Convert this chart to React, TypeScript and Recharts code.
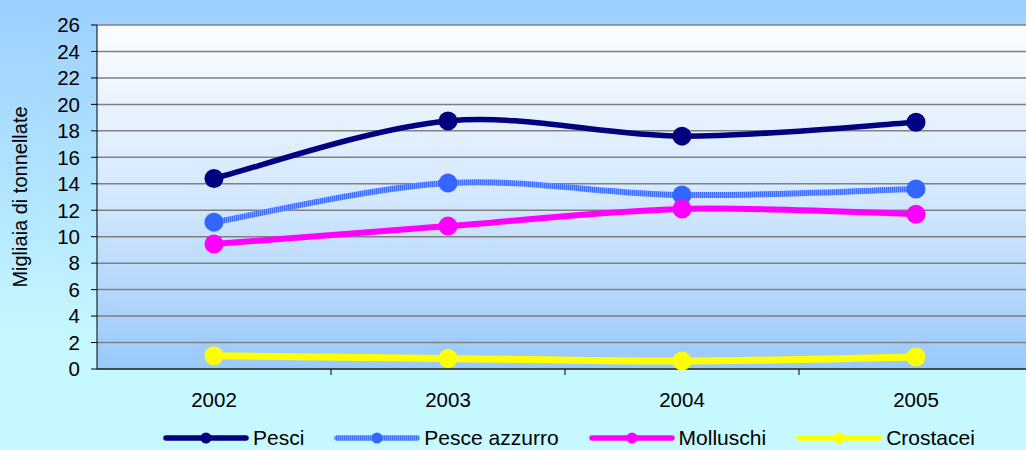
import { LineChart, Line, XAxis, YAxis, CartesianGrid } from "recharts";

const years = ["2002", "2003", "2004", "2005"];
const pesci = [14.4, 18.75, 17.6, 18.65];
const pesceAzzurro = [11.1, 14.05, 13.15, 13.6];
const molluschi = [9.45, 10.8, 12.1, 11.7];
const crostacei = [1.0, 0.8, 0.6, 0.9];
const yTicks = [0, 2, 4, 6, 8, 10, 12, 14, 16, 18, 20, 22, 24, 26];

const series = [
  { key: "pesci", name: "Pesci", color: "#000080", dot: "#000080", width: 5.5 },
  { key: "azzurro", name: "Pesce azzurro", color: "url(#stripes)", dot: "#3366ff", width: 6 },
  { key: "molluschi", name: "Molluschi", color: "#ff00ff", dot: "#ff00ff", width: 6 },
  { key: "crostacei", name: "Crostacei", color: "#ffff00", dot: "#ffff00", width: 7 },
];

const data = years.map((y, i) => ({
  x: i + 0.5,
  year: y,
  pesci: pesci[i],
  azzurro: pesceAzzurro[i],
  molluschi: molluschi[i],
  crostacei: crostacei[i],
}));

const font = "'Liberation Sans', Arial, sans-serif";

// office-style smoothed line (catmull-rom through the points)
// eslint-disable-next-line @typescript-eslint/no-explicit-any
function smoothCurve(context: any) {
  let pts: number[][] = [];
  return {
    areaStart() {},
    areaEnd() {},
    lineStart() {
      pts = [];
    },
    point(x: number, y: number) {
      pts.push([+x, +y]);
    },
    lineEnd() {
      if (!pts.length) return;
      context.moveTo(pts[0][0], pts[0][1]);
      for (let i = 0; i < pts.length - 1; i++) {
        const p0 = pts[i - 1] || pts[i];
        const p1 = pts[i];
        const p2 = pts[i + 1];
        const p3 = pts[i + 2] || p2;
        context.bezierCurveTo(
          p1[0] + (p2[0] - p0[0]) / 6,
          p1[1] + (p2[1] - p0[1]) / 6,
          p2[0] - (p3[0] - p1[0]) / 6,
          p2[1] - (p3[1] - p1[1]) / 6,
          p2[0],
          p2[1]
        );
      }
    },
  };
}

// labels sit in the middle of each category, tick marks on the boundaries
// eslint-disable-next-line @typescript-eslint/no-explicit-any
function XTick({ x, y, payload }: any) {
  const v = payload.value;
  if (Number.isInteger(v)) {
    return <line x1={x} x2={x} y1={y} y2={y + 6} stroke="#000" strokeWidth={1} />;
  }
  return (
    <text x={x} y={y + 38} textAnchor="middle" fontSize={20.5} fill="#000" fontFamily={font}>
      {years[Math.floor(v)]}
    </text>
  );
}

function LegendIcon({ color, dot }: { color: string; dot: string }) {
  return (
    <svg width={86} height={14} style={{ marginRight: 4 }}>
      <line x1={3} x2={83} y1={7} y2={7} stroke={color} strokeWidth={5.5} strokeLinecap="round" />
      <circle cx={43} cy={7} r={5.5} fill={dot} />
    </svg>
  );
}

export default function App() {
  return (
    <div
      style={{
        position: "fixed",
        left: 0,
        top: 0,
        width: 1026,
        height: 450,
        overflow: "hidden",
        background: "linear-gradient(to bottom, #9dcfff 0%, #b4e6ff 45%, #c6f8ff 75%, #c6f9ff 100%)",
        fontFamily: font,
      }}
    >
      <LineChart width={1040} height={450} data={data} margin={{ top: 25, right: 7, left: 0, bottom: 0 }}>
        <defs>
          <linearGradient id="plotGrad" x1="0" y1="0" x2="0" y2="1">
            <stop offset="0%" stopColor="#fbfdff" />
            <stop offset="50%" stopColor="#d4e8fd" />
            <stop offset="100%" stopColor="#99c9fb" />
          </linearGradient>
          <pattern id="stripes" width={2} height={2} patternUnits="userSpaceOnUse">
            <rect width={1} height={2} fill="#3d6cff" />
            <rect x={1} width={1} height={2} fill="#7a9cff" />
          </pattern>
        </defs>
        <CartesianGrid fill="url(#plotGrad)" vertical={false} stroke="#808080" strokeWidth={1.5} />
        <XAxis
          dataKey="x"
          type="number"
          domain={[0, 4]}
          ticks={[0.5, 1, 1.5, 2, 2.5, 3, 3.5]}
          interval={0}
          tick={<XTick />}
          tickLine={false}
          tickSize={0}
          tickMargin={0}
          axisLine={{ stroke: "#000" }}
          height={81}
        />
        <YAxis
          domain={[0, 26]}
          ticks={yTicks}
          interval={0}
          width={97}
          tickSize={6}
          tickMargin={11}
          tick={{ fill: "#000", fontSize: 20.5, fontFamily: font }}
          tickLine={{ stroke: "#000" }}
          axisLine={{ stroke: "#000" }}
          label={{
            value: "Migliaia di tonnellate",
            angle: -90,
            position: "insideLeft",
            offset: 20,
            style: { textAnchor: "middle", fontSize: 20, fill: "#000", fontFamily: font },
          }}
        />
        {series.map((s) => (
          <Line
            key={s.key}
            type={smoothCurve}
            dataKey={s.key}
            stroke={s.color}
            strokeWidth={s.width}
            dot={{ r: 9.5, fill: s.dot, stroke: "none" }}
            activeDot={false}
            isAnimationActive={false}
          />
        ))}
      </LineChart>
      <div
        style={{
          position: "absolute",
          left: 163,
          top: 426,
          display: "flex",
          alignItems: "center",
          fontSize: 21,
          color: "#000",
        }}
      >
        {series.map((s) => (
          <div key={s.key} style={{ display: "flex", alignItems: "center", marginRight: 30 }}>
            <LegendIcon color={s.color} dot={s.dot} />
            <span>{s.name}</span>
          </div>
        ))}
      </div>
    </div>
  );
}
